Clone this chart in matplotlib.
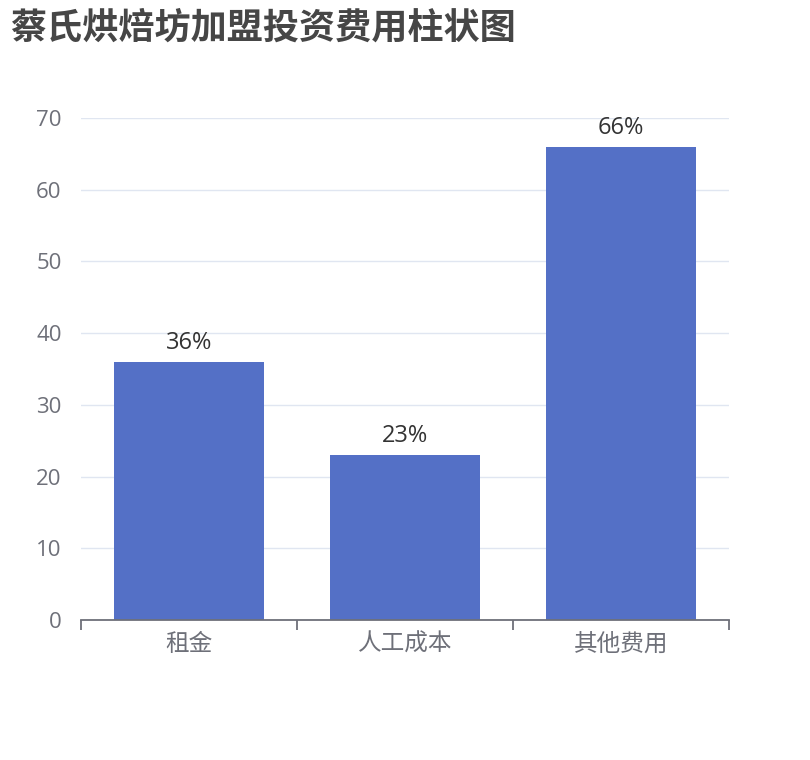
import matplotlib
matplotlib.use("Agg")
import matplotlib.pyplot as plt
import numpy as np

plt.rcParams['font.family'] = ['Open Sans', 'Noto Sans CJK SC', 'DejaVu Sans']

# === Data ===
title = "蔡氏烘焙坊加盟投资费用柱状图"
categories = ["租金", "人工成本", "其他费用"]
values = [36, 23, 66]
y_ticks = [0, 10, 20, 30, 40, 50, 60, 70]

# === Figure ===
fig = plt.figure(figsize=(8.1, 7.6), dpi=100)
ax = fig.add_axes([0.1, 0.1842, 0.8, 0.6605])

x = np.arange(len(categories))
ax.bar(x, values, width=0.69, color="#5470c6", zorder=3)

for xi, v in zip(x, values):
    ax.annotate(f"{v}%", (xi, v), xytext=(0, 5), textcoords="offset points",
                ha="center", va="bottom", fontsize=17, color="#333333")

ax.set_xlim(-0.5, len(categories) - 0.5)
ax.set_ylim(0, 70)
ax.set_yticks(y_ticks)
ax.tick_params(axis="y", length=0, labelsize=16, labelcolor="#6e7079", pad=14)
ax.yaxis.grid(True, color="#e0e6f1", linewidth=1, zorder=0)

# category ticks at boundaries, labels at centers
ax.set_xticks(np.arange(len(categories) + 1) - 0.5)
ax.set_xticklabels([])
ax.set_xticks(x, minor=True)
ax.set_xticklabels(categories, minor=True, family=['Noto Sans CJK SC', 'DejaVu Sans'])
ax.tick_params(axis="x", which="major", length=7, width=1.3, color="#6e7079", direction="out")
ax.tick_params(axis="x", which="minor", length=0, labelsize=17, labelcolor="#6e7079", pad=9)

for side in ["top", "right", "left"]:
    ax.spines[side].set_visible(False)
ax.spines["bottom"].set_color("#6e7079")
ax.spines["bottom"].set_linewidth(1.3)
ax.spines["bottom"].set_zorder(4)

fig.text(10 / 810, 1 - 28 / 760, title, fontsize=26, fontweight="bold",
         family=['Noto Sans CJK SC', 'DejaVu Sans'],
         color="#464646", ha="left", va="center")

fig.savefig("out.png", dpi=100)
